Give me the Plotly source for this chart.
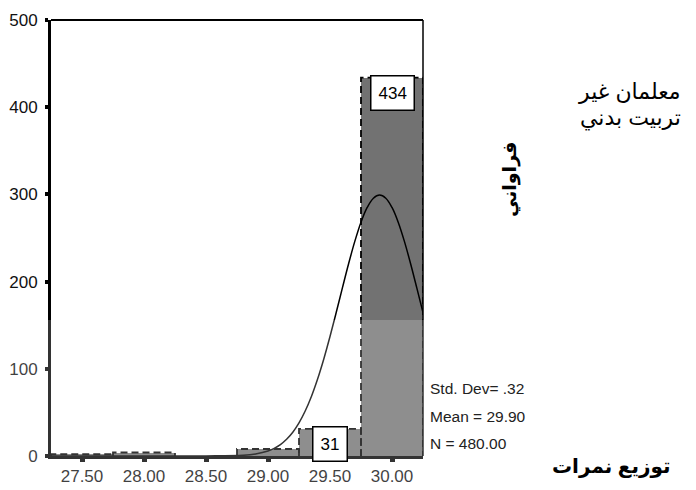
import plotly.graph_objects as go

# ---- data ----
bin_centers = [27.5, 28.0, 28.5, 29.0, 29.5, 30.0]
counts = [2, 4, 0, 8, 31, 434]
labelled_counts = [31, 434]
tick_vals = [27.5, 28.0, 28.5, 29.0, 29.5, 30.0]
tick_text = ["27.50", "28.00", "28.50", "29.00", "29.50", "30.00"]
y_ticks = [0, 100, 200, 300, 400, 500]
# normal curve
curve_x = [27.25, 28.0, 28.5, 28.8, 28.9, 29.0, 29.05, 29.1, 29.15, 29.2, 29.25, 29.3, 29.35,
           29.4, 29.45, 29.5, 29.55, 29.6, 29.65, 29.7, 29.75, 29.8, 29.85, 29.9,
           29.95, 30.0, 30.05, 30.1, 30.15, 30.2, 30.25]
curve_y = [0, 0, 0.1, 0.8, 2.3, 5.7, 8.8, 13.1, 19.2, 27.3, 38.0, 51.6, 68.3,
           88.3, 111.3, 137.0, 164.5, 192.8, 220.5, 246.1, 268.1, 285.0, 295.6, 299.2,
           295.6, 285.0, 268.1, 246.1, 220.5, 192.8, 164.5]
stats_lines = ["Std. Dev= .32", "Mean = 29.90", "N = 480.00"]
group_title_lines = ["معلمان غير", "تربيت بدني"]
y_title = "فراواني"
x_title = "توزيع نمرات"
bin_width = 0.5

FONT = "Arial, Liberation Sans, DejaVu Sans, sans-serif"

fig = go.Figure()
fig.add_trace(go.Bar(x=bin_centers, y=counts, width=bin_width,
                     marker=dict(color="#727272", line=dict(width=0)),
                     hoverinfo="skip"))
# dashed outline for the bars
ox, oy = [], []
for c, h in zip(bin_centers, counts):
    if h <= 0:
        continue
    x0, x1 = c - bin_width / 2, c + bin_width / 2
    ox += [x0, x0, x1, x1, None]
    oy += [0, h, h, 0, None]
fig.add_trace(go.Scatter(x=ox, y=oy, mode="lines",
                         line=dict(color="black", width=1.8, dash="7px,4px"),
                         hoverinfo="skip"))
fig.add_trace(go.Scatter(x=curve_x, y=curve_y, mode="lines", line_shape="spline",
                         line=dict(color="black", width=1.5), hoverinfo="skip"))

# frame: thinner top and right edges
fig.add_shape(type="line", xref="paper", yref="paper", x0=0, x1=1, y0=1, y1=1,
              line=dict(color="black", width=2), layer="above")
fig.add_shape(type="line", xref="paper", yref="paper", x0=1, x1=1, y0=0, y1=1,
              line=dict(color="black", width=1.5), layer="above")

# watermark-ish lightening in the lower part
fig.add_shape(type="rect", xref="paper", yref="paper", x0=-0.14, x1=1.48, y0=-0.08, y1=0.312,
              fillcolor="rgba(255,255,255,0.2)", line=dict(width=0), layer="above")

for c, h in zip(bin_centers, counts):
    if h in labelled_counts:
        fig.add_annotation(x=c, y=h, text=str(h), showarrow=False, yanchor="top", yshift=3,
                           bgcolor="white", bordercolor="black", borderwidth=1.5, borderpad=7,
                           font=dict(size=17, color="black", family=FONT))

for i, t in enumerate(stats_lines):
    fig.add_annotation(xref="paper", yref="paper", x=1.0134, y=[0.1537, 0.0917, 0.0298][i],
                       text=t, showarrow=False, xanchor="left", yanchor="middle",
                       font=dict(size=15.5, color="#222", family=FONT))

for i, t in enumerate(group_title_lines):
    fig.add_annotation(xref="paper", yref="paper", x=1.699, y=[0.835, 0.775][i], text=t,
                       showarrow=False, xanchor="right", yanchor="middle",
                       font=dict(size=22, color="black", family=FONT))
fig.add_annotation(xref="paper", yref="paper", x=1.234, y=0.633, text="<b>" + y_title + "</b>",
                   showarrow=False, textangle=-90, xanchor="center", yanchor="middle",
                   font=dict(size=19, color="black", family=FONT))
fig.add_annotation(xref="paper", yref="paper", x=1.508, y=-0.025, text="<b>" + x_title + "</b>",
                   showarrow=False, xanchor="center", yanchor="middle",
                   font=dict(size=20, color="black", family=FONT))

fig.update_xaxes(range=[27.25, 30.25], tickvals=tick_vals, ticktext=tick_text,
                 showline=True, linecolor="black", linewidth=3,
                 ticks="outside", ticklen=3, tickwidth=5, tickcolor="black",
                 showgrid=False, zeroline=False, automargin=False,
                 tickfont=dict(size=17, color="#111", family=FONT))
fig.update_yaxes(range=[0, 500], tickvals=y_ticks,
                 showline=True, linecolor="black", linewidth=3,
                 ticks="outside", ticklen=3, tickwidth=4, tickcolor="black",
                 showgrid=False, zeroline=False, automargin=False, ticklabelstandoff=4,
                 tickfont=dict(size=17, color="#111", family=FONT))

# page body has an 8px margin, so the figure is 8px smaller than the window
fig.update_layout(width=688, height=482, margin=dict(l=43, r=273, t=12, b=34, autoexpand=False),
                  paper_bgcolor="white", plot_bgcolor="white", showlegend=False,
                  bargap=0, font=dict(family=FONT))
fig.write_html("out.html")
